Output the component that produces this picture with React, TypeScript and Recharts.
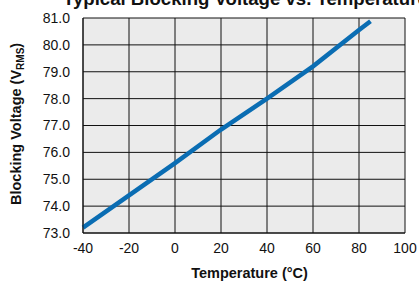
import React from "react";
import {
  LineChart,
  Line,
  XAxis,
  YAxis,
  CartesianGrid,
} from "recharts";

const temperatures = [-40, -20, 0, 20, 40, 60, 80, 85];
const blockingVoltage = [73.2, 74.4, 75.6, 76.85, 78.0, 79.2, 80.55, 80.88];
const xTicks = [-40, -20, 0, 20, 40, 60, 80, 100];
const yTicks = [73, 74, 75, 76, 77, 78, 79, 80, 81];

const data = temperatures.map((t, i) => ({ temp: t, volts: blockingVoltage[i] }));

const FONT = "Arial, 'Liberation Sans', Helvetica, sans-serif";

const App = () => (
  <div style={{ position: "absolute", left: 0, top: 0, background: "#fff" }}>
    <LineChart
      width={419}
      height={285}
      data={data}
      margin={{ top: 18, right: 14, left: 23, bottom: 22 }}
    >
      <text
        x={63}
        y={5}
        textAnchor="start"
        fontFamily={FONT}
        fontWeight="bold"
        fontSize={18.6}
        fill="#111"
      >
        Typical Blocking Voltage vs. Temperature
      </text>
      {/* y title, starts at the bottom; anchor "start" so the subscript tspans don't shift it */}
      <text
        x={21}
        y={205}
        transform="rotate(-90, 21, 205)"
        textAnchor="start"
        fontFamily={FONT}
        fontWeight="bold"
        fontSize={14.5}
        fill="#111"
      >
        Blocking Voltage (V
        <tspan fontSize={10} dy={3}>
          RMS
        </tspan>
        <tspan dy={-3}>)</tspan>
      </text>
      <text
        x={249.5}
        y={278}
        textAnchor="middle"
        fontFamily={FONT}
        fontWeight="bold"
        fontSize={14.5}
        fill="#111"
      >
        Temperature (°C)
      </text>
      <CartesianGrid
        stroke="#111"
        strokeWidth={1}
        fill="#ebebeb"
        fillOpacity={1}
        horizontalValues={yTicks}
        verticalValues={xTicks}
      />
      <XAxis
        dataKey="temp"
        type="number"
        domain={[-40, 100]}
        ticks={xTicks}
        height={30}
        axisLine={{ stroke: "#111" }}
        tickLine={false}
        tickSize={0}
        tickMargin={10}
        tick={{ fill: "#111", fontSize: 14, fontFamily: FONT }}
      />
      <YAxis
        type="number"
        domain={[73, 81]}
        ticks={yTicks}
        width={60}
        axisLine={{ stroke: "#111" }}
        tickLine={false}
        tickSize={0}
        tickMargin={13}
        tickFormatter={(v: number) => v.toFixed(1)}
        tick={{ fill: "#111", fontSize: 14, fontFamily: FONT }}
      />
      <Line
        type="linear"
        dataKey="volts"
        stroke="#0a6db3"
        strokeWidth={4.5}
        dot={false}
        isAnimationActive={false}
      />
    </LineChart>
  </div>
);

export default App;
